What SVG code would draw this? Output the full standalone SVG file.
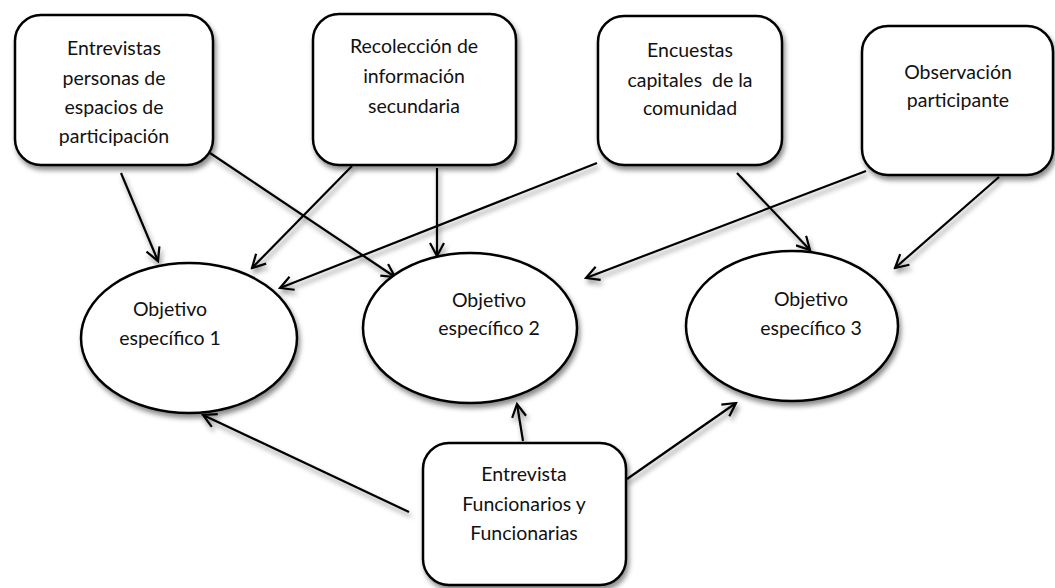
<svg xmlns="http://www.w3.org/2000/svg" width="1055" height="588" viewBox="0 0 1055 588">
<defs>
<style>
.box{fill:#fff;stroke:#000;stroke-width:2.5}
.ell{fill:#fff;stroke:#000;stroke-width:2.5}
.t{font-family:Lato,"Liberation Sans",sans-serif;font-size:19.5px;fill:#111;text-anchor:middle}
.c line{stroke:#000;stroke-width:2.2;marker-end:url(#ah)}
</style>
<filter id="sh" x="-10%" y="-10%" width="125%" height="130%">
<feDropShadow dx="2" dy="4" stdDeviation="2.5" flood-color="#000" flood-opacity="0.45"/>
</filter>
<marker id="ah" viewBox="0 0 16 16" refX="14" refY="8" markerWidth="16" markerHeight="16" markerUnits="userSpaceOnUse" orient="auto">
<path d="M1,1 L14,8 L1,15" fill="none" stroke="#000" stroke-width="2.2"/>
</marker>
<clipPath id="clip1"><rect x="0" y="0" width="300" height="146"/></clipPath>
</defs>
<rect width="1055" height="588" fill="#fff"/>

<g id="connectors" class="c" filter="url(#sh)">
<line x1="121" y1="173" x2="158" y2="261"/>
<line x1="210" y1="153" x2="395" y2="277"/>
<line x1="352" y1="166" x2="252" y2="268"/>
<line x1="437" y1="168" x2="437" y2="256"/>
<line x1="597" y1="163" x2="280" y2="288"/>
<line x1="737" y1="173" x2="810" y2="250"/>
<line x1="866" y1="171" x2="586" y2="278"/>
<line x1="999" y1="177" x2="895" y2="268"/>
<line x1="409" y1="512" x2="203" y2="415"/>
<line x1="523" y1="441" x2="517" y2="404"/>
<line x1="627" y1="479" x2="736" y2="403"/>
</g>

<g id="box1">
<rect class="box" x="15" y="15" width="198" height="150" rx="26" filter="url(#sh)"/>
<g clip-path="url(#clip1)">
<text class="t" x="114" y="55">Entrevistas</text>
<text class="t" x="114" y="85">personas de</text>
<text class="t" x="114" y="114">espacios de</text>
<text class="t" x="114" y="143">participación</text>
</g>
</g>

<g id="box2">
<rect class="box" x="313" y="14" width="203" height="151" rx="26" filter="url(#sh)"/>
<text class="t" x="414" y="53">Recolección de</text>
<text class="t" x="414" y="83">información</text>
<text class="t" x="414" y="113">secundaria</text>
</g>

<g id="box3">
<rect class="box" x="598" y="16" width="184" height="149" rx="26" filter="url(#sh)"/>
<text class="t" x="690" y="57" xml:space="preserve">Encuestas</text>
<text class="t" x="690" y="87" xml:space="preserve">capitales  de la</text>
<text class="t" x="690" y="115">comunidad</text>
</g>

<g id="box4">
<rect class="box" x="862" y="26" width="191" height="149" rx="26" filter="url(#sh)"/>
<text class="t" x="958" y="79">Observación</text>
<text class="t" x="958" y="107">participante</text>
</g>

<g id="obj1">
<ellipse class="ell" cx="189" cy="338" rx="108" ry="75" filter="url(#sh)"/>
<text class="t" x="170" y="316">Objetivo</text>
<text class="t" x="170" y="345">específico 1</text>
</g>

<g id="obj2">
<ellipse class="ell" cx="470" cy="328" rx="107" ry="75" filter="url(#sh)"/>
<text class="t" x="489" y="307">Objetivo</text>
<text class="t" x="489" y="335">específico 2</text>
</g>

<g id="obj3">
<ellipse class="ell" cx="792" cy="326" rx="106" ry="75" filter="url(#sh)"/>
<text class="t" x="811" y="306">Objetivo</text>
<text class="t" x="811" y="335">específico 3</text>
</g>

<g id="box5">
<rect class="box" x="423" y="443" width="203" height="142" rx="26" filter="url(#sh)"/>
<text class="t" x="524" y="481">Entrevista</text>
<text class="t" x="524" y="511">Funcionarios y</text>
<text class="t" x="524" y="540">Funcionarias</text>
</g>
</svg>
